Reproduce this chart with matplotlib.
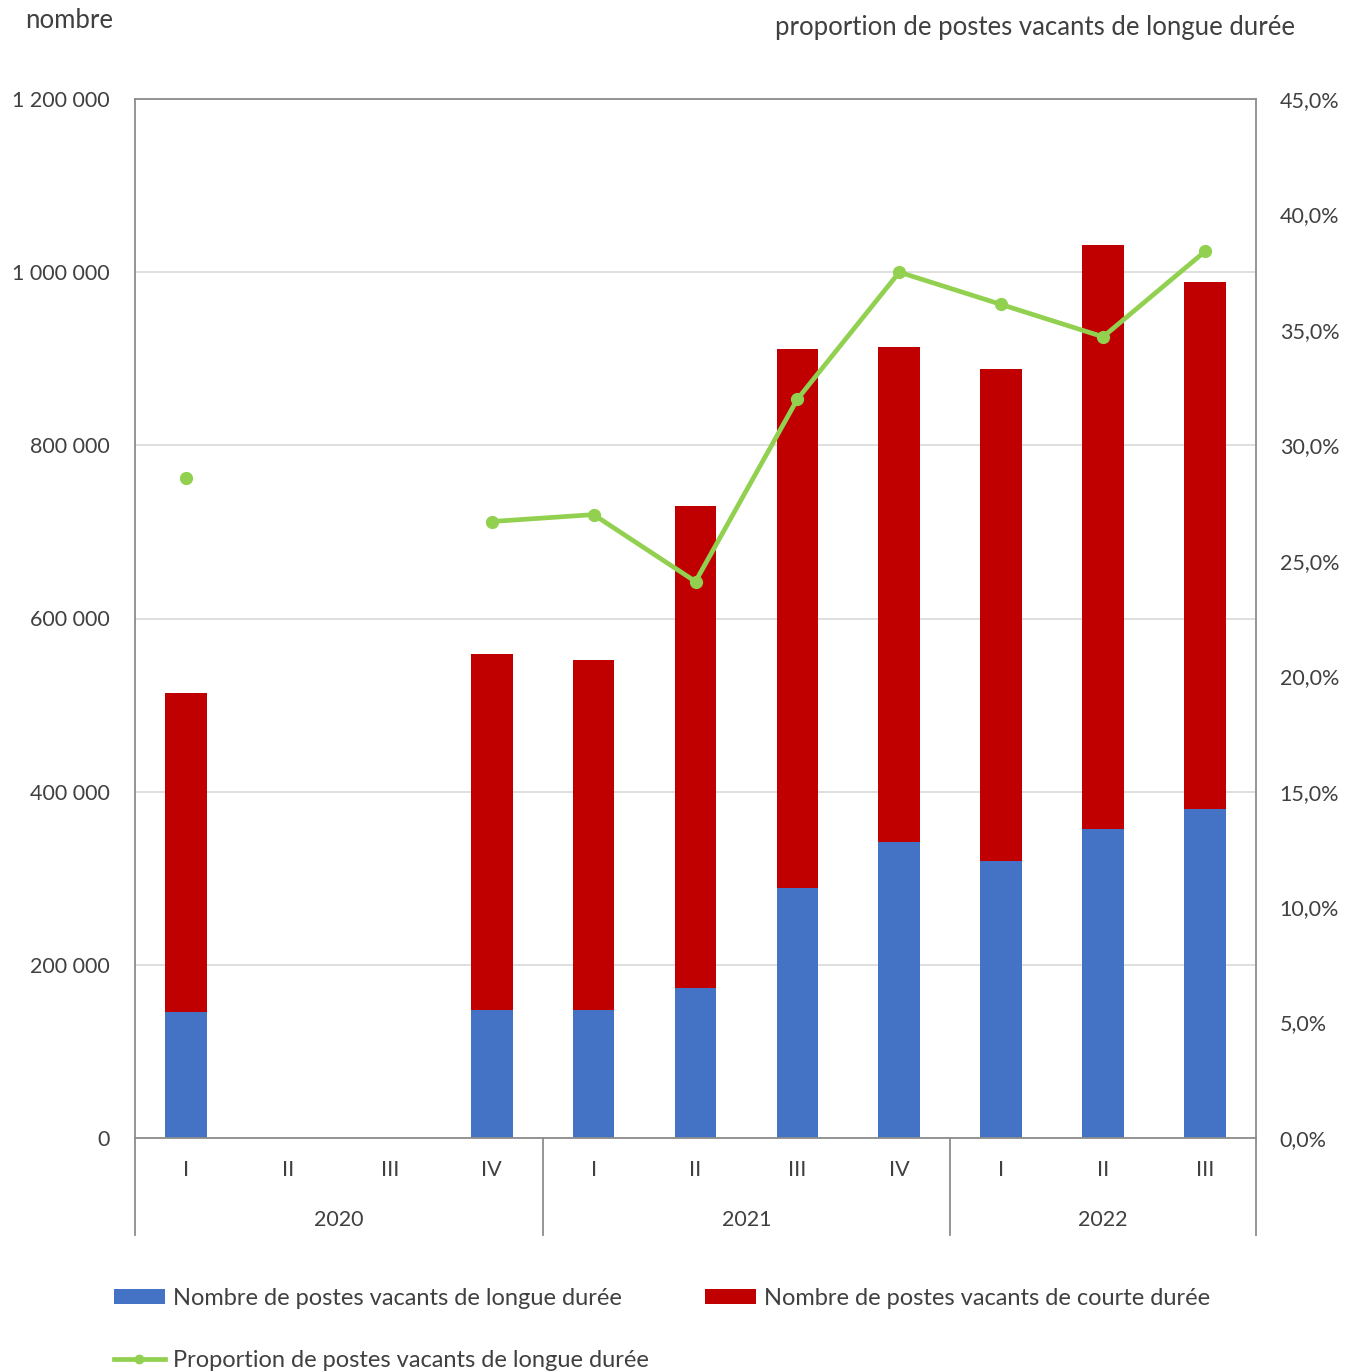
import matplotlib
matplotlib.use('Agg')
import matplotlib.pyplot as plt
import numpy as np
from matplotlib.ticker import FuncFormatter, MultipleLocator
from matplotlib.lines import Line2D
from matplotlib.patches import Patch

plt.rcParams['font.family'] = ['Lato', 'DejaVu Sans']

nan = np.nan
quarters = ['I', 'II', 'III', 'IV', 'I', 'II', 'III', 'IV', 'I', 'II', 'III']
years = ['2020', '2021', '2022']
year_first_last = [(0, 3), (4, 7), (8, 10)]
longue = [145500, nan, nan, 147800, 147800, 173000, 288700, 341900, 320000, 357000, 380000]
courte = [368500, nan, nan, 411200, 404200, 557000, 622300, 571700, 568000, 674000, 608700]
proportion = [28.6, nan, nan, 26.7, 27.0, 24.1, 32.0, 37.5, 36.1, 34.7, 38.4]

lab_longue = 'Nombre de postes vacants de longue durée'
lab_courte = 'Nombre de postes vacants de courte durée'
lab_prop = 'Proportion de postes vacants de longue durée'

BLUE = '#4472C4'
RED = '#C00000'
GREEN = '#92D050'
TXT = '#404040'
FRAME = '#8C8C8C'
GRID = '#D9D9D9'

W, H = 1357, 1372
fig = plt.figure(figsize=(W / 100, H / 100), dpi=100)
ax = fig.add_axes([135 / W, 1 - 1138 / H, (1256 - 135) / W, (1138 - 99) / H])

x = np.arange(len(quarters))
bw = 0.41
ax.bar(x, longue, width=bw, color=BLUE, zorder=2)
ax.bar(x, courte, width=bw, bottom=longue, color=RED, zorder=2)

ax.set_xlim(-0.5, len(quarters) - 0.5)
ax.set_ylim(0, 1200000)
ax.yaxis.set_major_locator(MultipleLocator(200000))
ax.yaxis.set_major_formatter(FuncFormatter(lambda v, p: f'{int(v):,}'.replace(',', ' ')))
ax.grid(axis='y', color=GRID, linewidth=1.2, zorder=0)
ax.set_axisbelow(True)
ax.tick_params(axis='y', length=0, pad=18, labelsize=15.5, labelcolor=TXT)
ax.set_xticks(x)
ax.set_xticklabels(quarters)
ax.tick_params(axis='x', length=0, pad=16, labelsize=15.5, labelcolor=TXT)
for s in ax.spines.values():
    s.set_color(FRAME)
    s.set_linewidth(1.3)

ax2 = ax.twinx()
ax2.set_ylim(0, 45)
ax2.yaxis.set_major_locator(MultipleLocator(5))
ax2.yaxis.set_major_formatter(FuncFormatter(lambda v, p: f'{v:.1f}'.replace('.', ',') + '%'))
ax2.tick_params(axis='y', length=0, pad=17, labelsize=15.5, labelcolor=TXT)
for s in ax2.spines.values():
    s.set_visible(False)
ax2.plot(x, proportion, color=GREEN, linewidth=3.4, marker='o', markersize=8.5, zorder=3)

# group separators and extended frame
ylow = -(1235 - 1138) / (1138 - 99)
trans = ax.get_xaxis_transform()
for xv in [-0.5, 3.5, 7.5, len(quarters) - 0.5]:
    ax.plot([xv, xv], [ylow, 0], transform=trans, color=FRAME, linewidth=1.3, clip_on=False)
yyear = -(1220 - 1138) / (1138 - 99)
for yr, (a, b) in zip(years, year_first_last):
    ax.text((a + b) / 2, yyear, yr, transform=trans, ha='center', va='center',
            fontsize=15.5, color=TXT)

fig.text(25 / W, 1 - 20 / H, 'nombre', ha='left', va='center', fontsize=18.5, color=TXT)
fig.text(1295 / W, 1 - 28 / H, 'proportion de postes vacants de longue durée',
         ha='right', va='center', fontsize=18.5, color=TXT)

handles = [Patch(facecolor=BLUE), Line2D([], [], color=GREEN, linewidth=3.4, marker='o', markersize=6),
           Patch(facecolor=RED)]
labels = [lab_longue, lab_prop, lab_courte]
fig.legend(handles, labels, ncol=2, loc='upper left', bbox_to_anchor=(114 / W, 1 - 1288 / H),
           frameon=False, fontsize=17, labelcolor=TXT, handlelength=2.15, handleheight=0.6,
           handletextpad=0.33, columnspacing=2.4, labelspacing=1.72, borderaxespad=0, borderpad=0)

fig.savefig('out.png', dpi=100, facecolor='white')
